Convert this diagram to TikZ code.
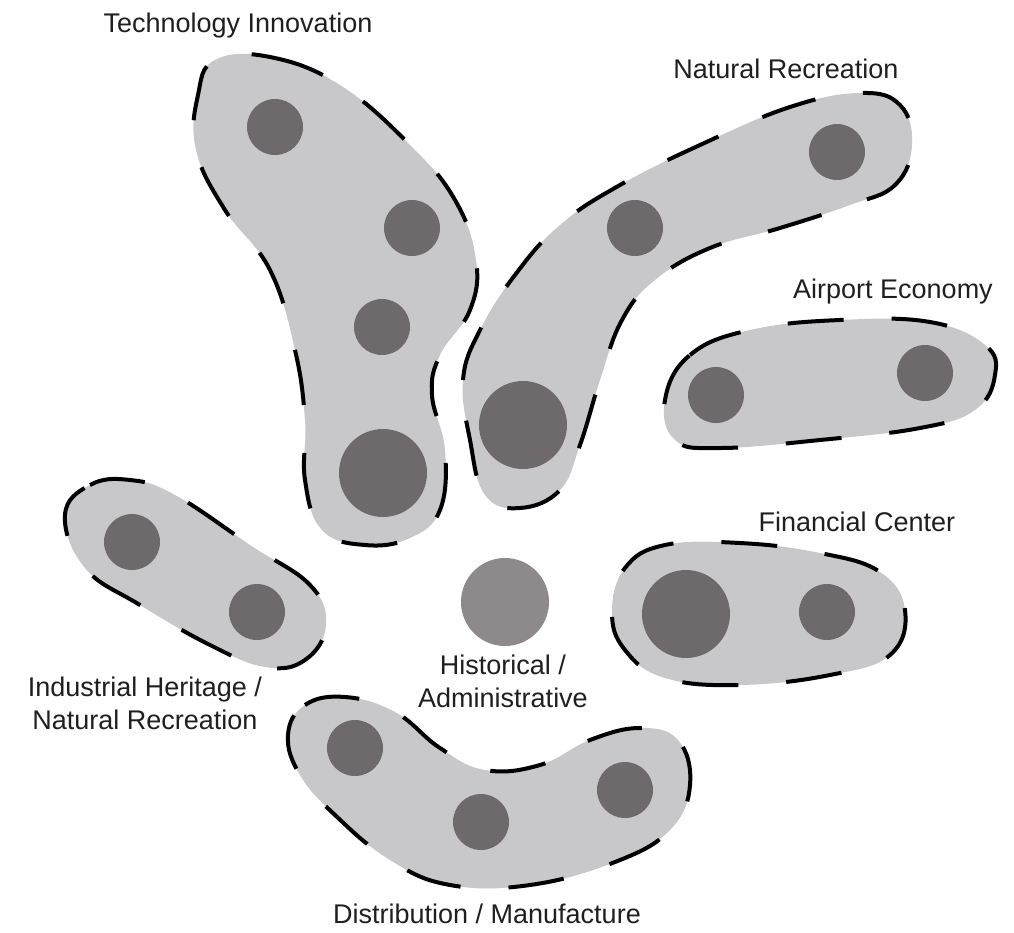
\documentclass[tikz,border=0pt]{standalone}
\usepackage{fontspec}
\setmainfont{Liberation Sans}
\definecolor{blobfill}{HTML}{C8C8CA}
\definecolor{dotc}{HTML}{6E6A6B}
\definecolor{corec}{HTML}{8E8A8B}
\begin{document}
\begin{tikzpicture}[x=0.5pt,y=-0.5pt,
  blob/.style={fill=blobfill, draw=black, line width=2pt, dash pattern=on 28pt off 24pt},
  dotS/.style={circle, fill=dotc, inner sep=0pt, minimum size=28pt},
  dotL/.style={circle, fill=dotc, inner sep=0pt, minimum size=44pt},
  lbl/.style={font=\fontsize{13.5}{16.5}\selectfont, align=center, text=black!88}]
\useasboundingbox (0,0) rectangle (1014,933);

% Technology Innovation
\path[blob] plot[smooth cycle, tension=0.7] coordinates {
 (215,60) (270,57) (340,85) (410,145) (455,200) (476,260) (470,310) (440,355)
 (432,395) (445,450) (440,510) (410,538) (365,545) (322,530) (305,480) (305,420)
 (295,350) (270,270) (225,210) (196,150) (198,95)};
\node[dotS] (t1) at (275,127) {};
\node[dotS] (t2) at (412,228) {};
\node[dotS] (t3) at (382,327) {};
\node[dotL] (t4) at (383,473) {};

% Natural Recreation
\path[blob] plot[smooth cycle, tension=0.7] coordinates {
 (470,440) (463,380) (480,330) (515,275) (560,225) (620,185) (700,145) (790,107)
 (860,93) (900,105) (912,145) (895,185) (850,205) (780,228) (710,248) (655,280)
 (622,320) (600,380) (580,445) (560,490) (520,508) (485,495)};
\node[dotS] (n1) at (837,152) {};
\node[dotS] (n2) at (635,228) {};
\node[dotL] (n3) at (523,425) {};

% Airport Economy
\path[blob] plot[smooth cycle, tension=0.7] coordinates {
 (665,400) (690,355) (750,330) (840,320) (930,322) (985,345) (995,375) (975,410)
 (920,428) (820,440) (720,448) (675,440)};
\node[dotS] (a1) at (716,395) {};
\node[dotS] (a2) at (925,373) {};

% Financial Center
\path[blob] plot[smooth cycle, tension=0.7] coordinates {
 (612,612) (625,568) (665,545) (740,543) (820,553) (880,572) (905,610) (890,655)
 (830,675) (740,685) (665,678) (625,650)};
\node[dotL] (f1) at (686,614) {};
\node[dotS] (f2) at (827,612) {};

% Industrial Heritage
\path[blob] plot[smooth cycle, tension=0.7] coordinates {
 (65,515) (90,485) (130,480) (175,495) (250,545) (310,585) (326,625) (305,660)
 (265,667) (210,645) (140,605) (85,568)};
\node[dotS] (i1) at (132,542) {};
\node[dotS] (i2) at (257,612) {};

% Distribution / Manufacture
\path[blob] plot[smooth cycle, tension=0.7] coordinates {
 (288,735) (305,705) (345,697) (395,712) (440,748) (485,770) (540,765) (590,740)
 (640,728) (678,740) (690,785) (670,830) (615,862) (530,885) (450,885) (390,860)
 (335,815) (300,775)};
\node[dotS] (d1) at (355,748) {};
\node[dotS] (d2) at (481,822) {};
\node[dotS] (d3) at (625,790) {};

% Historical core
\node[circle, fill=corec, inner sep=0pt, minimum size=44pt] (core) at (505,602) {};

% Labels
\node[lbl] (lt) at (238,26) {Technology Innovation};
\node[lbl] (ln) at (786,69) {Natural Recreation};
\node[lbl] (la) at (893,292) {Airport Economy};
\node[lbl] (lf) at (857,522) {Financial Center};
\node[lbl] (lh) at (503,681) {Historical /\\Administrative};
\node[lbl] (li) at (145,703) {Industrial Heritage /\\Natural Recreation};
\node[lbl] (ld) at (487,914) {Distribution / Manufacture};
\end{tikzpicture}
\end{document}
